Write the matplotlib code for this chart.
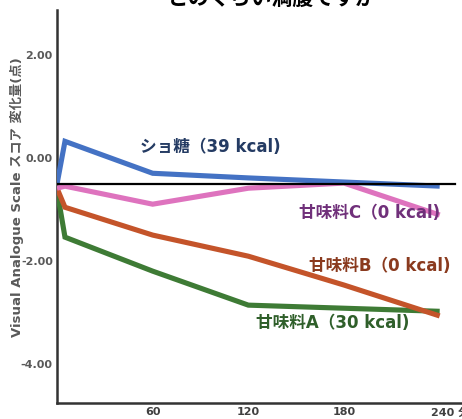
import matplotlib
matplotlib.use("Agg")
import matplotlib.pyplot as plt
import matplotlib.transforms as mtransforms

plt.rcParams['font.family'] = ['DejaVu Sans', 'Noto Sans CJK JP']

# ---- data ----
times = [0, 5, 60, 120, 180, 240]
sugar = [0.0, 0.83, 0.21, 0.12, 0.04, -0.04]          # ショ糖
sweet_c = [-0.08, -0.04, -0.39, -0.08, 0.02, -0.60]   # 甘味料C
sweet_b = [-0.08, -0.45, -0.99, -1.40, -1.96, -2.56]  # 甘味料B
sweet_a = [-0.12, -1.03, -1.69, -2.35, -2.41, -2.47]  # 甘味料A

series_labels = ['ショ糖（39 kcal)', '甘味料C（0 kcal)', '甘味料B（0 kcal)', '甘味料A（30 kcal)']
ytick_vals = [2, 0, -2, -4]
ytick_labels = ['2.00', '0.00', '-2.00', '-4.00']
xtick_vals = [60, 120, 180, 240]
xtick_labels = ['60', '120', '180', '240 分']
title = 'どのくらい満腹ですか'
ylabel = 'Visual Analogue Scale スコア 変化量(点)'

line_colors = ['#4472C4', '#DE73BE', '#C4542A', '#3E7B35']
text_colors = ['#243B63', '#70307A', '#8A3A1E', '#2F5F2A']

W, H = 462, 419
fig = plt.figure(figsize=(W / 100, H / 100), dpi=100)
ax = fig.add_axes([57 / W, (H - 403) / H, 1 - 57 / W, (403 - 10) / H])

for ys, c in zip([sweet_a, sweet_b, sweet_c, sugar], [line_colors[3], line_colors[2], line_colors[1], line_colors[0]]):
    ax.plot(times, ys, color=c, lw=3.7, solid_joinstyle='miter', solid_capstyle='butt', zorder=3)

ax.axhline(0, xmin=0, xmax=(455 - 57) / (W - 57), color='black', lw=1.6, zorder=4)

ax.set_xlim(0, 254)
ax.set_ylim(-4.25, 3.38)

# labels for series
fs = 12
ax.text(52, 0.72, series_labels[0], color=text_colors[0], fontsize=fs, fontweight='bold', va='center', ha='left')
ax.text(152, -0.56, series_labels[1], color=text_colors[1], fontsize=fs, fontweight='bold', va='center', ha='left')
ax.text(158, -1.59, series_labels[2], color=text_colors[2], fontsize=fs, fontweight='bold', va='center', ha='left')
ax.text(125, -2.70, series_labels[3], color=text_colors[3], fontsize=fs, fontweight='bold', va='center', ha='left')

ax.set_yticks(ytick_vals)
ax.set_yticklabels(ytick_labels, fontsize=8, fontweight='bold', color='#595959')
ax.set_xticks(xtick_vals)
ax.set_xticklabels(xtick_labels, fontsize=8, fontweight='bold', color='#404040')
ax.tick_params(axis='y', length=0, pad=3)
ax.tick_params(axis='x', length=0, pad=3)

offset = mtransforms.ScaledTranslation(0, 26 / 100, fig.dpi_scale_trans)
for lab in ax.get_yticklabels():
    lab.set_transform(lab.get_transform() + offset)
last_off = mtransforms.ScaledTranslation(10 / 100, 0, fig.dpi_scale_trans)
xlabs = ax.get_xticklabels()
xlabs[-1].set_transform(xlabs[-1].get_transform() + last_off)

for s in ['top', 'right']:
    ax.spines[s].set_visible(False)
for s in ['left', 'bottom']:
    ax.spines[s].set_color('#333333')
    ax.spines[s].set_linewidth(1.8)

fig.text(17 / W, 1 - 197 / H, ylabel, rotation=90, fontsize=9.5, fontweight='bold',
         color='#595959', ha='center', va='center')

fig.text(272 / W, 1 - 9 / H, title, fontsize=15, fontweight='bold', color='black',
         ha='center', va='bottom')

fig.savefig('out.png', dpi=100)
